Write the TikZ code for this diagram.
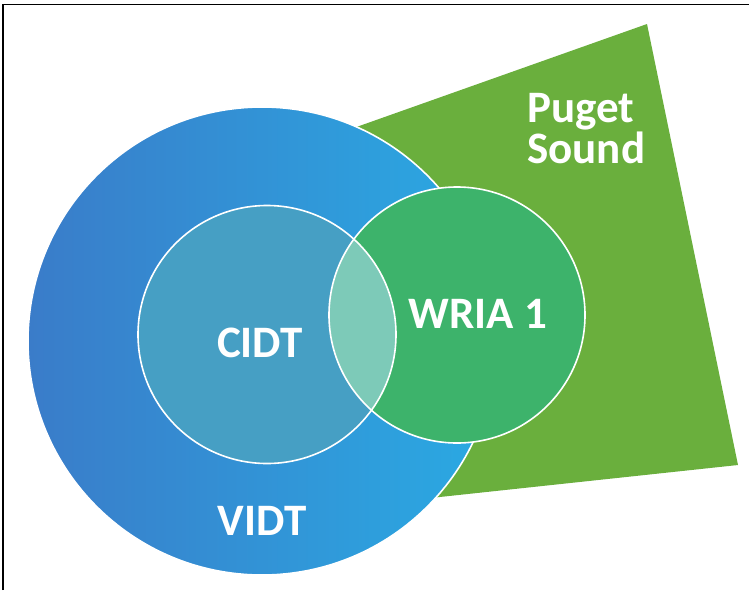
\documentclass[tikz,border=0pt]{standalone}
\usepackage{fontspec}
\setmainfont{Carlito}
\definecolor{vidtdark}{HTML}{3A7CC9}
\definecolor{vidtlight}{HTML}{2AAAE3}
\definecolor{cidtfill}{HTML}{469FC4}
\definecolor{wriafill}{HTML}{3DB36B}
\definecolor{lensfill}{HTML}{7DCAB8}
\definecolor{pugetfill}{HTML}{6AAF3D}
\begin{document}
\begin{tikzpicture}[x=1pt,y=-1pt,
  lbl/.style={text=white,font=\fontsize{45}{50}\selectfont\bfseries,inner sep=0pt},
  ring/.style={draw=white,line width=1.6pt}]
\useasboundingbox (0,0) rectangle (749,590);
% frame edges
\draw[line width=1.4pt] (3,590) -- (3,4.5) -- (749,4.5);
% Puget Sound region (its left part lies under the VIDT disc)
\fill[pugetfill] (300,147) -- (647,24) -- (738,465) -- (300,512) -- cycle;
% VIDT disc
\shade[left color=vidtdark,right color=vidtlight] (262,341) circle[radius=234];
\draw[ring] (262,341) circle[radius=234];
% CIDT and WRIA 1 discs
\fill[cidtfill] (267,334.5) circle[radius=129];
\fill[wriafill] (457,315) circle[radius=128];
\begin{scope}
  \clip (267,334.5) circle[radius=129];
  \fill[lensfill] (457,315) circle[radius=128];
\end{scope}
\draw[ring] (267,334.5) circle[radius=129];
\draw[ring] (457,315) circle[radius=128];
% labels
\node[lbl,anchor=base] (cidt) at (260,357) {CIDT};
\node[lbl,anchor=base] (wria) at (478,328) {WRIA 1};
\node[lbl,anchor=base] (vidt) at (262,535) {VIDT};
\node[lbl,anchor=base west] (puget) at (527,122) {Puget};
\node[lbl,anchor=base west] (sound) at (527,163) {Sound};
\end{tikzpicture}
\end{document}
